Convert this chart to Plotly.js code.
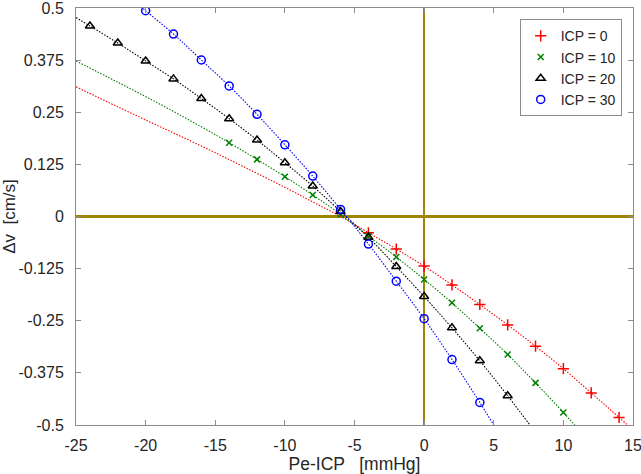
<!DOCTYPE html>
<html>
<head>
<meta charset="utf-8">
<script src="https://cdn.plot.ly/plotly-3.0.1.min.js"></script>
<style>html,body{margin:0;padding:0;background:#fff;}#chart{width:641px;height:474px;}</style>
</head>
<body>
<div id="chart"></div>
<script>
// Series names
const seriesNames = ['ICP = 0', 'ICP = 10', 'ICP = 20', 'ICP = 30'];

// Fitted curves (dotted lines)
const curveX0 = [-25, -22, -19, -16, -13, -10, -8, -6, -4, -2, 0, 2, 4, 6, 8, 10, 12, 14, 16];
const curveY0 = [0.311, 0.263, 0.216, 0.169, 0.120, 0.070, 0.035, 0.000, -0.039, -0.078, -0.119, -0.164, -0.211, -0.260, -0.311, -0.365, -0.423, -0.482, -0.543];

const curveX10 = [-25, -22, -19, -16, -14, -12, -10, -8, -6, -4, -2, 0, 2, 4, 6, 8, 10, 12];
const curveY10 = [0.373, 0.322, 0.270, 0.215, 0.177, 0.137, 0.0955, 0.0516, 0.005, -0.047, -0.097, -0.151, -0.207, -0.268, -0.331, -0.399, -0.470, -0.545];

const curveX20 = [-25, -24, -22, -20, -18, -16, -14, -12, -10, -8, -6, -4, -2, 0, 2, 4, 6, 8];
const curveY20 = [0.477, 0.457, 0.416, 0.373, 0.330, 0.283, 0.2346, 0.1835, 0.129, 0.073, 0.012, -0.050, -0.120, -0.192, -0.267, -0.346, -0.430, -0.518];

const curveX30 = [-21, -20, -18, -16, -14, -12, -10, -8, -6, -4, -2, 0, 2, 4, 6];
const curveY30 = [0.522, 0.4935, 0.4376, 0.3753, 0.313, 0.245, 0.172, 0.097, 0.017, -0.066, -0.155, -0.245, -0.343, -0.446, -0.555];

// Measured points (markers)
const markX0 = [-4, -2, 0, 2, 4, 6, 8, 10, 12, 14];
const markY0 = [-0.039, -0.078, -0.119, -0.164, -0.211, -0.260, -0.311, -0.365, -0.423, -0.482];

const markX10 = [-14, -12, -10, -8, -6, -4, -2, 0, 2, 4, 6, 8, 10];
const markY10 = [0.177, 0.137, 0.0955, 0.0516, 0.005, -0.047, -0.097, -0.151, -0.207, -0.268, -0.331, -0.399, -0.470];

const markX20 = [-24, -22, -20, -18, -16, -14, -12, -10, -8, -6, -4, -2, 0, 2, 4, 6];
const markY20 = [0.457, 0.416, 0.373, 0.330, 0.283, 0.2346, 0.1835, 0.129, 0.073, 0.012, -0.050, -0.120, -0.192, -0.267, -0.346, -0.430];

const markX30 = [-20, -18, -16, -14, -12, -10, -8, -6, -4, -2, 0, 2, 4];
const markY30 = [0.4935, 0.4376, 0.3753, 0.313, 0.245, 0.172, 0.097, 0.017, -0.066, -0.155, -0.245, -0.343, -0.446];

// Axis ticks
const xTickVals = [-25, -20, -15, -10, -5, 0, 5, 10, 15];
const xTickText = ['-25', '-20', '-15', '-10', '-5', '0', '5', '10', '15'];
const yTickVals = [-0.5, -0.375, -0.25, -0.125, 0, 0.125, 0.25, 0.375, 0.5];
const yTickText = ['-0.5', '-0.375', '-0.25', '-0.125', '0', '0.125', '0.25', '0.375', '0.5'];

const colors = ['#ff0000', '#008000', '#000000', '#0000ff'];
const symbols = ['cross-thin', 'x-thin', 'triangle-up-open', 'circle-open'];
const symSizes = [8, 6, 8, 8];

const curvesX = [curveX0, curveX10, curveX20, curveX30];
const curvesY = [curveY0, curveY10, curveY20, curveY30];
const marksX = [markX0, markX10, markX20, markX30];
const marksY = [markY0, markY10, markY20, markY30];

const traces = [];
for (let i = 0; i < 4; i++) {
  traces.push({
    x: curvesX[i], y: curvesY[i], type: 'scatter', mode: 'lines',
    line: {color: colors[i], width: 1.1, dash: '1.5px,1.5px', shape: 'spline', smoothing: 1},
    showlegend: false, hoverinfo: 'skip'
  });
}
for (let i = 0; i < 4; i++) {
  traces.push({
    x: marksX[i], y: marksY[i], type: 'scatter', mode: 'markers', name: seriesNames[i],
    marker: {symbol: symbols[i], size: symSizes[i], color: colors[i],
             line: {color: colors[i], width: 1.5}}
  });
}

const axisCommon = {
  showgrid: false, showline: true, linecolor: '#8c8c8c', linewidth: 1, mirror: 'ticks',
  ticks: 'inside', ticklen: 5, tickcolor: '#8c8c8c', tickwidth: 1,
  ticklabeloverflow: 'allow',
  tickfont: {family: 'Liberation Sans, Arial, sans-serif', size: 16, color: '#262626'},
  zeroline: true, zerolinecolor: '#a08500', zerolinewidth: 2.5
};

const layout = {
  width: 641, height: 474,
  margin: {l: 76, r: 8, t: 8, b: 49},
  paper_bgcolor: '#ffffff', plot_bgcolor: '#ffffff',
  showlegend: true,
  xaxis: Object.assign({}, axisCommon, {
    range: [-25, 15.0001], tickmode: 'array', tickvals: xTickVals, ticktext: xTickText,
    ticklabelstandoff: 6,
    title: {text: 'Pe-ICP   [mmHg]', font: {family: 'Liberation Sans, Arial, sans-serif', size: 17.5, color: '#262626'}, standoff: 0}
  }),
  yaxis: Object.assign({}, axisCommon, {
    range: [-0.5, 0.500001], tickmode: 'array', tickvals: yTickVals, ticktext: yTickText,
    ticklabelstandoff: 8,
    title: {text: 'Δv  [cm/s]', font: {family: 'Liberation Sans, Arial, sans-serif', size: 17, color: '#262626'}, standoff: 6}
  }),
  legend: {
    x: 0.9797, xanchor: 'right', y: 0.973, yanchor: 'top',
    bgcolor: '#ffffff', bordercolor: '#8c8c8c', borderwidth: 1,
    font: {family: 'Liberation Sans, Arial, sans-serif', size: 14, color: '#262626'},
    tracegroupgap: 0
  }
};

Plotly.newPlot('chart', traces, layout, {staticPlot: true, displayModeBar: false});
</script>
</body>
</html>
